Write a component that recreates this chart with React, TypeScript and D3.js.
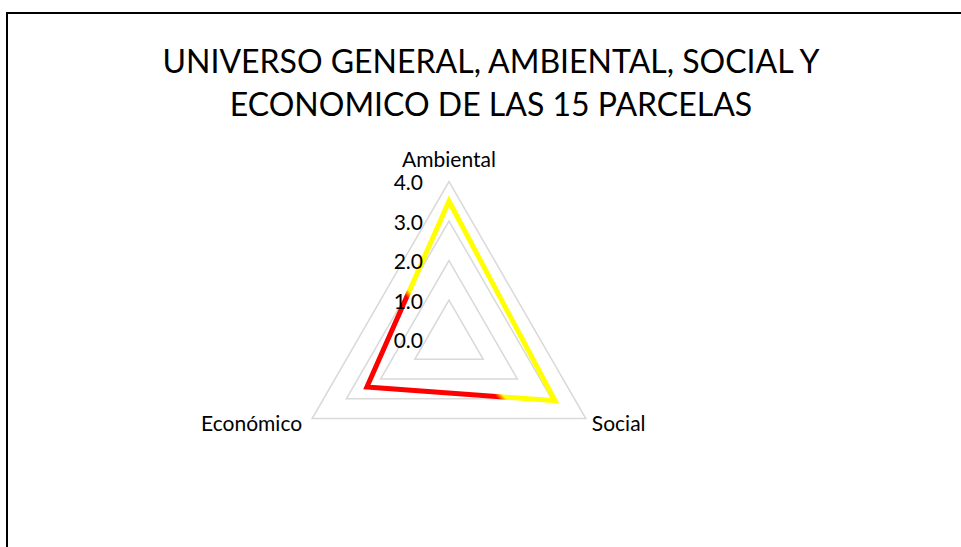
import React from "react";
import * as d3 from "d3";

const titleLines = ["UNIVERSO GENERAL, AMBIENTAL, SOCIAL Y", "ECONOMICO DE LAS 15 PARCELAS"];
const axes = ["Ambiental", "Social", "Económico"];
const values = [3.5, 3.1, 2.4];
const ticks = [0, 1, 2, 3, 4];
const tickLabels = ["0.0", "1.0", "2.0", "3.0", "4.0"];

const W = 961;
const H = 547;
const cx = 449;
const cy = 339.5;
const R = 158;
const FONT = "Lato, Carlito, Calibri, 'Open Sans', sans-serif";

export default function App() {
  const r = d3.scaleLinear().domain([0, 4]).range([0, R]);
  const angle = (i: number) => (i * 2 * Math.PI) / axes.length; // 0 = up, clockwise
  const pt = (i: number, v: number): [number, number] => [
    cx + r(v) * Math.sin(angle(i)),
    cy - r(v) * Math.cos(angle(i)),
  ];

  const lineGen = d3.line<[number, number]>().curve(d3.curveLinearClosed);
  const dataPts = values.map((v, i) => pt(i, v));
  const dataPath = lineGen(dataPts) || "";

  const lerp = (a: [number, number], b: [number, number], t: number): [number, number] => [
    a[0] + (b[0] - a[0]) * t,
    a[1] + (b[1] - a[1]) * t,
  ];
  const econ = dataPts[2];
  const P1 = lerp(econ, dataPts[0], 0.5);
  const P2 = lerp(econ, dataPts[1], 0.71);
  const mid: [number, number] = [(P1[0] + P2[0]) / 2, (P1[1] + P2[1]) / 2];
  const dx = P2[0] - P1[0];
  const dy = P2[1] - P1[1];
  const len = Math.hypot(dx, dy);
  let n: [number, number] = [-dy / len, dx / len];
  if ((econ[0] - mid[0]) * n[0] + (econ[1] - mid[1]) * n[1] < 0) n = [-n[0], -n[1]];
  const L = 150;
  const g1 = [mid[0] + n[0] * L, mid[1] + n[1] * L];
  const g2 = [mid[0] - n[0] * L, mid[1] - n[1] * L];

  const labelPos = [
    { x: cx, y: cy - R - 23, anchor: "middle" },
    { x: pt(1, 4)[0] + 6, y: pt(1, 4)[1] + 4, anchor: "start" },
    { x: pt(2, 4)[0] - 10, y: pt(2, 4)[1] + 4, anchor: "end" },
  ];

  return (
    <div style={{ position: "fixed", left: 0, top: 0, width: W, height: H, overflow: "hidden", background: "#fff" }}>
      <svg width={W} height={H} style={{ display: "block" }}>
        <defs>
          <linearGradient id="lineGrad" gradientUnits="userSpaceOnUse" x1={g1[0]} y1={g1[1]} x2={g2[0]} y2={g2[1]}>
            <stop offset="0" stopColor="#ff0000" />
            <stop offset="0.49" stopColor="#ff0000" />
            <stop offset="0.51" stopColor="#ffff00" />
            <stop offset="1" stopColor="#ffff00" />
          </linearGradient>
        </defs>
        <rect x={0} y={0} width={W} height={H} fill="#fff" />
        <line x1={7} y1={13} x2={W} y2={13} stroke="#000" strokeWidth={2} />
        <line x1={7} y1={12} x2={7} y2={H} stroke="#000" strokeWidth={2} />

        {titleLines.map((t, i) => (
          <text key={i} x={491} y={60 + i * 43} textAnchor="middle" dominantBaseline="central"
            fontFamily={FONT} fontSize={32} fill="#000">
            {t}
          </text>
        ))}

        {ticks.slice(1).map((t) => (
          <path key={t} d={lineGen(axes.map((_, i) => pt(i, t))) || ""} fill="none" stroke="#d9d9d9" strokeWidth={1.5} />
        ))}

        <path d={dataPath} fill="none" stroke="url(#lineGrad)" strokeWidth={5} strokeLinejoin="miter" />

        {ticks.map((t, i) => (
          <text key={t} x={cx - 26} y={cy - r(t)} textAnchor="end" dominantBaseline="central"
            fontFamily={FONT} fontSize={21} fill="#000">
            {tickLabels[i]}
          </text>
        ))}

        {axes.map((a, i) => (
          <text key={a} x={labelPos[i].x} y={labelPos[i].y} textAnchor={labelPos[i].anchor as any}
            dominantBaseline="central" fontFamily={FONT} fontSize={21} fill="#000">
            {a}
          </text>
        ))}
      </svg>
    </div>
  );
}
